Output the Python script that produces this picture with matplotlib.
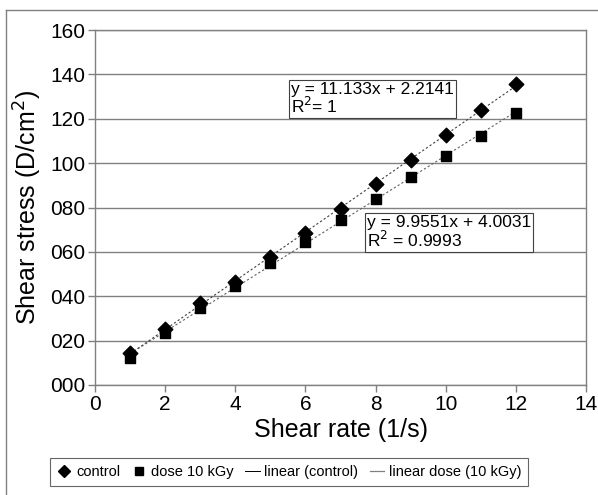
import numpy as np
import matplotlib
matplotlib.use("Agg")
import matplotlib.pyplot as plt
from matplotlib.lines import Line2D
from matplotlib.ticker import FuncFormatter

plt.rcParams['font.family'] = ['Liberation Sans', 'DejaVu Sans']

shear_rate = [1, 2, 3, 4, 5, 6, 7, 8, 9, 10, 11, 12]
control = [14.2, 25.2, 36.8, 46.6, 57.8, 68.7, 79.4, 90.4, 101.5, 112.6, 124.1, 135.5]
dose_10kGy = [12.3, 23.3, 34.6, 44.4, 55.0, 64.6, 74.5, 83.8, 93.6, 103.0, 112.4, 122.6]
eq_control = "y = 11.133x + 2.2141\nR$^2$= 1"
eq_dose = "y = 9.9551x + 4.0031\nR$^2$ = 0.9993"

W, H = 598, 495
fig = plt.figure(figsize=(W/100, H/100), dpi=100)
ax = fig.add_axes([95/W, 1-385/H, (586-95)/W, (385-30)/H])

# outer chart border (visible left and top)
fig.add_artist(Line2D([6/W, 6/W], [0, 1-10/H], transform=fig.transFigure, color='#808080', lw=1))
fig.add_artist(Line2D([6/W, 1], [1-10/H, 1-10/H], transform=fig.transFigure, color='#808080', lw=1))

x = np.array(shear_rate, dtype=float)
yc = np.array(control)
yd = np.array(dose_10kGy)

pc = np.polyfit(x, yc, 1)
pd_ = np.polyfit(x, yd, 1)
xl = np.array([x.min() - 0.1, x.max()])

ax.plot(xl, np.polyval(pc, xl), color='#404040', lw=0.8, ls=(0, (2, 2)), zorder=2)
ax.plot(xl, np.polyval(pd_, xl), color='#606060', lw=0.8, ls=(0, (2, 2)), zorder=2)

ax.scatter(x, yd, marker='s', s=62, color='black', zorder=3)
ax.scatter(x, yc, marker='D', s=55, color='black', zorder=4)

ax.set_xlim(0, 14)
ax.set_ylim(0, 160)
ax.set_xticks(range(0, 15, 2))
ax.set_yticks(range(0, 161, 20))
ax.yaxis.set_major_formatter(FuncFormatter(lambda v, p: f"{int(v):03d}"))
ax.grid(axis='y', color='#808080', lw=1)
ax.set_axisbelow(True)
for s in ax.spines.values():
    s.set_color('#808080')
    s.set_linewidth(1)
ax.tick_params(axis='both', labelsize=15, color='#808080', length=5, width=1, pad=2)
ax.tick_params(axis='x', pad=2)

ax.set_xlabel("Shear rate (1/s)", fontsize=18, labelpad=3)
ax.set_ylabel("Shear stress (D/cm$^2$)", fontsize=18, labelpad=4)

box = dict(boxstyle='square,pad=0.12', fc='white', ec='#404040', lw=0.8)
ax.text(5.6, 136.5, eq_control, fontsize=12.5, va='top', ha='left', bbox=box, linespacing=0.95, zorder=5)
ax.text(7.75, 76.5, eq_dose, fontsize=12.5, va='top', ha='left', bbox=box, linespacing=0.95, zorder=5)

handles = [
    Line2D([], [], marker='D', color='black', ls='none', markersize=6),
    Line2D([], [], marker='s', color='black', ls='none', markersize=6),
    Line2D([], [], color='black', lw=0.7),
    Line2D([], [], color='#808080', lw=0.9),
]
labels = ["control", "dose 10 kGy", "linear (control)", "linear dose (10 kGy)"]
leg = fig.legend(handles, labels, loc='center', bbox_to_anchor=(289/W, 1-472/H), ncol=4,
                 fontsize=10.5, frameon=True, fancybox=False, edgecolor='#404040',
                 handlelength=1.0, handletextpad=0.3, columnspacing=0.8, borderpad=0.5)
leg.get_frame().set_linewidth(0.8)

fig.savefig("out.png", dpi=100)
